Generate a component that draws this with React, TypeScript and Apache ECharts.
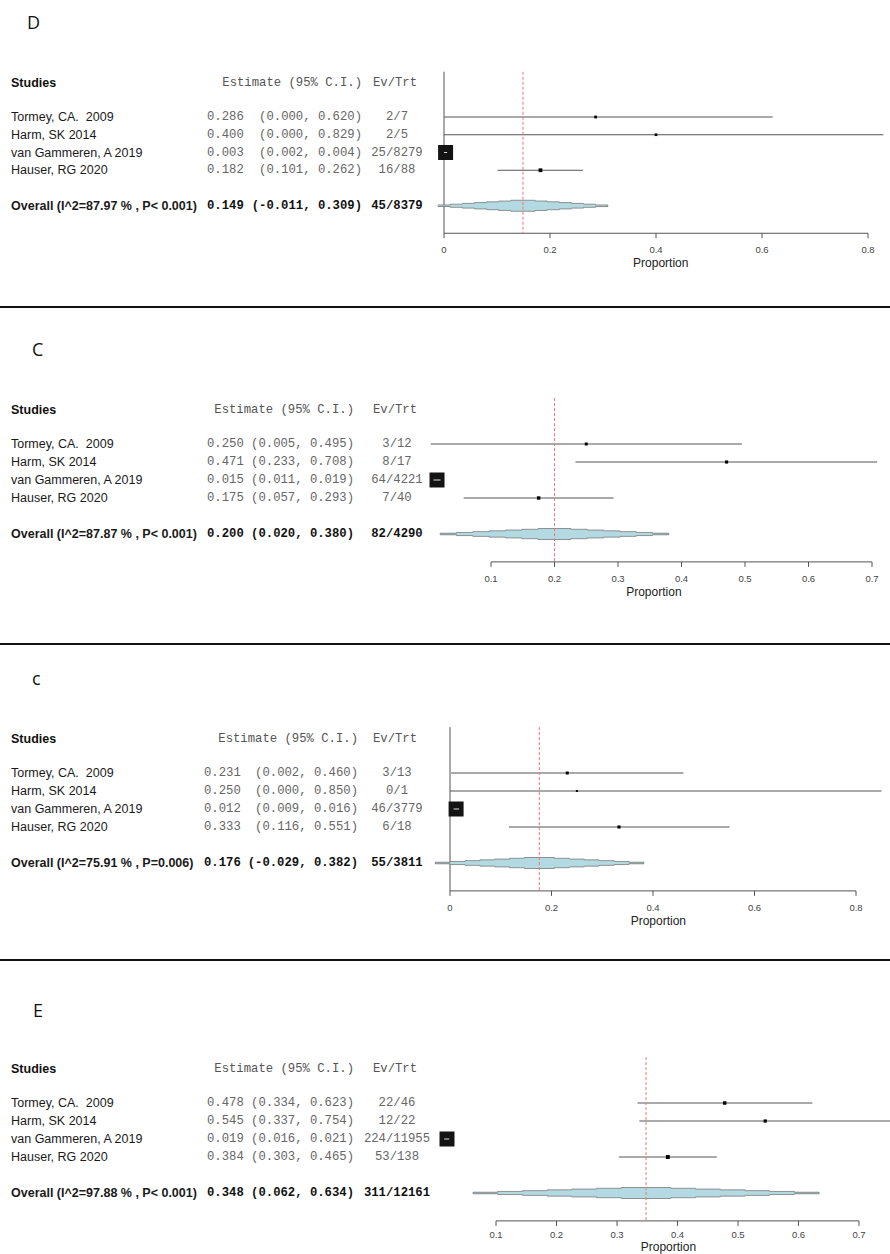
import React, { useEffect, useRef } from "react";
import * as echarts from "echarts";

// ---------- data ----------
const studyNames = ["Tormey, CA.  2009", "Harm, SK 2014", "van Gammeren, A 2019", "Hauser, RG 2020"];
const panelLabels = ["D", "C", "c", "E"];

// Panel D
const estD = [0.286, 0.4, 0.003, 0.182];
const loD = [0.0, 0.0, 0.002, 0.101];
const hiD = [0.62, 0.829, 0.004, 0.262];
const eventsD = [2, 2, 25, 16];
const totalsD = [7, 5, 8279, 88];
const overallD = [0.149, -0.011, 0.309];
const overallCountD = [45, 8379];
const hetD = ["87.97", "P< 0.001"];
const ticksD = [0, 0.2, 0.4, 0.6, 0.8];

// Panel C
const estC = [0.25, 0.471, 0.015, 0.175];
const loC = [0.005, 0.233, 0.011, 0.057];
const hiC = [0.495, 0.708, 0.019, 0.293];
const eventsC = [3, 8, 64, 7];
const totalsC = [12, 17, 4221, 40];
const overallC = [0.2, 0.02, 0.38];
const overallCountC = [82, 4290];
const hetC = ["87.87", "P< 0.001"];
const ticksC = [0.1, 0.2, 0.3, 0.4, 0.5, 0.6, 0.7];

// Panel c
const estc = [0.231, 0.25, 0.012, 0.333];
const loc = [0.002, 0.0, 0.009, 0.116];
const hic = [0.46, 0.85, 0.016, 0.551];
const eventsc = [3, 0, 46, 6];
const totalsc = [13, 1, 3779, 18];
const overallc = [0.176, -0.029, 0.382];
const overallCountc = [55, 3811];
const hetc = ["75.91", "P=0.006"];
const ticksc = [0, 0.2, 0.4, 0.6, 0.8];

// Panel E
const estE = [0.478, 0.545, 0.019, 0.384];
const loE = [0.334, 0.337, 0.016, 0.303];
const hiE = [0.623, 0.754, 0.021, 0.465];
const eventsE = [22, 12, 224, 53];
const totalsE = [46, 22, 11955, 138];
const overallE = [0.348, 0.062, 0.634];
const overallCountE = [311, 12161];
const hetE = ["97.88", "P< 0.001"];
const ticksE = [0.1, 0.2, 0.3, 0.4, 0.5, 0.6, 0.7];

// ---------- layout ----------
const W = 890;
const H = 1254;
const layouts = [
  { top: 99.25, step: 17.75, left: 444, width: 424, estX: 207, ciRight: 362, labelX: 27, labelY: 21.5, tickRow: 8.45, xlabelRow: 9.2 },
  { top: 426, step: 18, left: 491, width: 381, estX: 207, ciRight: 354, labelX: 32, labelY: 348.5, tickRow: 8.45, xlabelRow: 9.2 },
  { top: 755, step: 18, left: 450, width: 406, estX: 204, ciRight: 358, labelX: 32, labelY: 678, tickRow: 8.45, xlabelRow: 9.2 },
  { top: 1085, step: 18, left: 496, width: 363, estX: 207, ciRight: 354, labelX: 33, labelY: 1010, tickRow: 8.3, xlabelRow: 9.02 },
];
const dividers = [307, 644, 960];
const Y_MAX = 8;
const OVERALL_ROW = 6;
const AXIS_ROW = 7.55;
const HEADER_ROW = -0.9;
const REF_TOP_ROW = -1.55;
const EV_CENTER = 397;

const SANS = "'Liberation Sans', Arial, sans-serif";
const MONO = "'Liberation Mono', 'DejaVu Sans Mono', monospace";
const SANS_SIZE = 12.5;
const MONO_SIZE = 12.25;

const panels = [
  { est: estD, lo: loD, hi: hiD, ev: eventsD, n: totalsD, overall: overallD, oc: overallCountD, het: hetD, ticks: ticksD },
  { est: estC, lo: loC, hi: hiC, ev: eventsC, n: totalsC, overall: overallC, oc: overallCountC, het: hetC, ticks: ticksC },
  { est: estc, lo: loc, hi: hic, ev: eventsc, n: totalsc, overall: overallc, oc: overallCountc, het: hetc, ticks: ticksc },
  { est: estE, lo: loE, hi: hiE, ev: eventsE, n: totalsE, overall: overallE, oc: overallCountE, het: hetE, ticks: ticksE },
];

function txt(x: number, y: number, text: string, opts: any) {
  return {
    type: "text",
    style: {
      x,
      y,
      text,
      fill: opts.fill || "#1a1a1a",
      fontSize: opts.size || SANS_SIZE,
      fontFamily: opts.family || SANS,
      fontWeight: opts.weight || "normal",
      align: opts.align || "left",
      textAlign: opts.align || "left",
      verticalAlign: "middle",
      textVerticalAlign: "middle",
    },
  };
}

function buildOption() {
  const grid: any[] = [];
  const xAxis: any[] = [];
  const yAxis: any[] = [];
  const series: any[] = [];
  const graphic: any[] = [];

  dividers.forEach((y) => {
    graphic.push({ type: "line", shape: { x1: 0, y1: y, x2: W, y2: y }, style: { stroke: "#111", lineWidth: 2 } });
  });

  panels.forEach((p, pi) => {
    const L = layouts[pi];
    grid.push({ left: L.left, top: L.top, width: L.width, height: Y_MAX * L.step, containLabel: false });
    xAxis.push({ type: "value", gridIndex: pi, min: p.ticks[0], max: p.ticks[p.ticks.length - 1], show: false });
    yAxis.push({ type: "value", gridIndex: pi, min: 0, max: Y_MAX, inverse: true, show: false });

    const headerY = L.top + HEADER_ROW * L.step;
    graphic.push(txt(L.labelX, L.labelY, panelLabels[pi], { size: 18, family: "'Open Sans', sans-serif", fill: "#111" }));
    graphic.push(txt(11, headerY, "Studies", { weight: "bold", fill: "#111" }));
    graphic.push(txt(L.ciRight, headerY, "Estimate (95% C.I.)", { family: MONO, size: MONO_SIZE, fill: "#555", align: "right" }));
    graphic.push(txt(EV_CENTER - 2, headerY, "Ev/Trt", { family: MONO, size: MONO_SIZE, fill: "#555", align: "center" }));

    const maxN = Math.max(...p.n);
    const rowData = p.est.map((e, i) => [e, p.lo[i], p.hi[i], i + 1, p.n[i], p.ev[i]]);
    rowData.push([p.overall[0], p.overall[1], p.overall[2], OVERALL_ROW, p.oc[1], p.oc[0]]);
    const overallName = `Overall (I^2=${p.het[0]} % , ${p.het[1]})`;

    series.push({
      type: "custom",
      xAxisIndex: pi,
      yAxisIndex: pi,
      clip: false,
      silent: true,
      encode: { x: [0, 1, 2], y: 3 },
      data: rowData,
      z: 4,
      renderItem: (params: any, api: any) => {
        const i = params.dataIndex;
        const est = api.value(0);
        const lo = api.value(1);
        const hi = api.value(2);
        const row = api.value(3);
        const n = api.value(4);
        const ev = api.value(5);
        const [xe, y] = api.coord([est, row]);
        const xl = api.coord([lo, row])[0];
        const xh = api.coord([hi, row])[0];
        const isOverall = i === p.est.length;
        const bold = isOverall ? "bold" : "normal";
        const monoFill = isOverall ? "#111" : "#666";
        const children: any[] = [];
        children.push(txt(11, y, isOverall ? overallName : studyNames[i], { weight: bold, fill: "#1a1a1a" }));
        children.push(txt(L.estX, y, est.toFixed(3), { family: MONO, size: MONO_SIZE, weight: bold, fill: monoFill }));
        children.push(
          txt(L.ciRight, y, `(${lo.toFixed(3)}, ${hi.toFixed(3)})`, {
            family: MONO,
            size: MONO_SIZE,
            weight: bold,
            fill: monoFill,
            align: "right",
          })
        );
        children.push(
          txt(EV_CENTER, y, `${ev}/${n}`, { family: MONO, size: MONO_SIZE, weight: bold, fill: monoFill, align: "center" })
        );

        if (!isOverall) {
          if (n === maxN) {
            const s = 15;
            children.push({ type: "rect", shape: { x: xe - s / 2, y: y - s / 2, width: s, height: s }, style: { fill: "#141414" } });
            children.push({
              type: "line",
              shape: { x1: xl - 1, y1: y, x2: xh + 1, y2: y },
              style: { stroke: "#e0e0e0", lineWidth: 1 },
            });
          } else {
            children.push({ type: "line", shape: { x1: xl, y1: y, x2: xh, y2: y }, style: { stroke: "#555", lineWidth: 1 } });
            const s = 2 + 0.9 * Math.log10(Math.max(n, 1));
            children.push({ type: "rect", shape: { x: xe - s / 2, y: y - s / 2, width: s, height: s }, style: { fill: "#000" } });
          }
        } else {
          const h = 5.5;
          const N = 7;
          const up: number[][] = [[xl, y]];
          for (let k = 0; k < N; k++) {
            const x0 = xl + ((xe - xl) * k) / N;
            const x1 = xl + ((xe - xl) * (k + 1)) / N;
            const hk = (h * (k + 1)) / N;
            up.push([x0, y - hk], [x1, y - hk]);
          }
          for (let j = 0; j < N; j++) {
            const x0 = xe + ((xh - xe) * j) / N;
            const x1 = xe + ((xh - xe) * (j + 1)) / N;
            const hj = (h * (N - j)) / N;
            up.push([x0, y - hj], [x1, y - hj]);
          }
          up.push([xh, y]);
          const low = up
            .slice(1, up.length - 1)
            .map((pt) => [pt[0], 2 * y - pt[1]])
            .reverse();
          children.push({ type: "line", shape: { x1: xl, y1: y, x2: xh, y2: y }, style: { stroke: "#555", lineWidth: 1 } });
          children.push({
            type: "polygon",
            shape: { points: up.concat(low) },
            style: { fill: "#b3dae2", stroke: "#7a7a7a", lineWidth: 0.8 },
          });
        }
        return { type: "group", children };
      },
    });

    // reference (no-effect) line at zero
    if (p.ticks[0] <= 0) {
      series.push({
        type: "line",
        xAxisIndex: pi,
        yAxisIndex: pi,
        clip: false,
        silent: true,
        symbol: "none",
        data: [
          [0, REF_TOP_ROW],
          [0, AXIS_ROW],
        ],
        lineStyle: { color: "#555", width: 1 },
        z: 1,
      });
    }

    // summary estimate dashed line
    series.push({
      type: "line",
      xAxisIndex: pi,
      yAxisIndex: pi,
      clip: false,
      silent: true,
      symbol: "none",
      data: [
        [p.overall[0], REF_TOP_ROW],
        [p.overall[0], AXIS_ROW],
      ],
      lineStyle: { color: "#f07474", width: 1, type: [3, 2] },
      z: 5,
    });

    // x axis line
    series.push({
      type: "line",
      xAxisIndex: pi,
      yAxisIndex: pi,
      clip: false,
      silent: true,
      symbol: "none",
      data: [
        [p.ticks[0], AXIS_ROW],
        [p.ticks[p.ticks.length - 1], AXIS_ROW],
      ],
      lineStyle: { color: "#555", width: 1 },
    });

    // ticks and labels
    series.push({
      type: "custom",
      xAxisIndex: pi,
      yAxisIndex: pi,
      clip: false,
      silent: true,
      encode: { x: 0, y: 1 },
      data: p.ticks.map((t) => [t, AXIS_ROW]),
      renderItem: (params: any, api: any) => {
        const t = api.value(0);
        const [x, y] = api.coord([t, AXIS_ROW]);
        const yl = api.coord([t, L.tickRow])[1];
        const label = t === 0 ? "0" : String(+t.toFixed(1));
        return {
          type: "group",
          children: [
            { type: "line", shape: { x1: x, y1: y, x2: x, y2: y + 5 }, style: { stroke: "#555", lineWidth: 1 } },
            txt(x, yl, label, { size: 9.5, fill: "#444", align: "center" }),
          ],
        };
      },
    });

    // axis title centred on the drawn extent
    const allLo = p.lo.concat([p.overall[1]]);
    const allHi = p.hi.concat([p.overall[2]]);
    const mid = (Math.min(...allLo) + Math.max(...allHi)) / 2;
    series.push({
      type: "custom",
      xAxisIndex: pi,
      yAxisIndex: pi,
      clip: false,
      silent: true,
      encode: { x: 0, y: 1 },
      data: [[mid, L.xlabelRow]],
      renderItem: (params: any, api: any) => {
        const [x, y] = api.coord([api.value(0), api.value(1)]);
        return txt(x, y, "Proportion", { size: 12, fill: "#222", align: "center" });
      },
    });
  });

  return {
    animation: false,
    backgroundColor: "#ffffff",
    grid,
    xAxis,
    yAxis,
    series,
    graphic,
  };
}

export default function App() {
  const ref = useRef<HTMLDivElement>(null);
  useEffect(() => {
    if (!ref.current) return;
    const chart = echarts.init(ref.current, undefined, { renderer: "svg" });
    chart.setOption(buildOption() as any);
    return () => chart.dispose();
  }, []);
  return <div ref={ref} style={{ position: "absolute", left: 0, top: 0, width: W, height: H, background: "#fff" }} />;
}
